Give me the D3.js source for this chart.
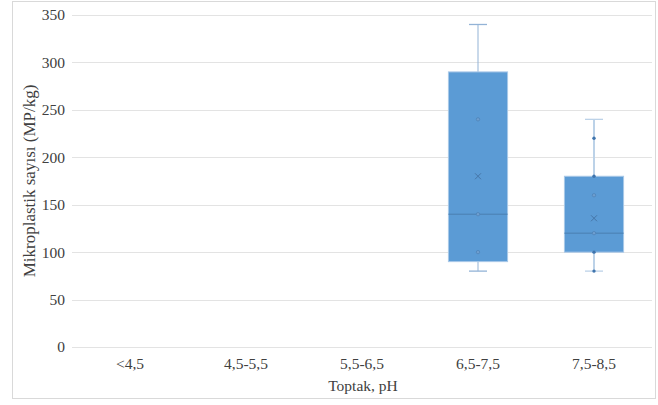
<!DOCTYPE html>
<html>
<head>
<meta charset="utf-8">
<script src="https://cdn.jsdelivr.net/npm/d3@7"></script>
<style>
body { margin: 0; background: #fff; }
svg text { font-family: "Liberation Serif", "Times New Roman", serif !important; }
</style>
</head>
<body>
<svg id="chart" width="658" height="405"></svg>
<script>
// pH classes and the sample values
var categories = ["<4,5", "4,5-5,5", "5,5-6,5", "6,5-7,5", "7,5-8,5"];
var valuesPh65 = [80, 100, 140, 240, 340];
var valuesPh75 = [80, 80, 100, 100, 100, 100, 120, 120, 120, 160, 180, 180, 220, 240];
var seriesValues = [[], [], [], valuesPh65, valuesPh75];
var yTicks = [0, 50, 100, 150, 200, 250, 300, 350];

var svg = d3.select("#chart");
var margin = {left: 72, right: 6, top: 15, bottom: 58};
var width = 658 - margin.left - margin.right;
var height = 405 - margin.top - margin.bottom;
var serif = "'Liberation Serif', 'Times New Roman', serif";

// outer chart border
svg.append("rect")
    .attr("x", 12.5).attr("y", 1.5)
    .attr("width", 643).attr("height", 397)
    .style("fill", "none").style("stroke", "#d9d9d9");

var g = svg.append("g").attr("transform", "translate(" + margin.left + "," + margin.top + ")");

var x = d3.scaleBand().domain(categories).range([0, width]);
var y = d3.scaleLinear().domain([0, 350]).range([height, 0]);

// exclusive quartiles, the way Excel draws its box plots
function quantileExc(sorted, p)
{
    var n = sorted.length;
    var pos = p * (n + 1);
    if (pos <= 1) return sorted[0];
    if (pos >= n) return sorted[n - 1];
    var lo = Math.floor(pos);
    return sorted[lo - 1] + (pos - lo) * (sorted[lo] - sorted[lo - 1]);
}

// grid
g.selectAll(".grid").data(yTicks).enter().append("line")
    .attr("x1", 0).attr("x2", width)
    .attr("y1", function(d){ return Math.round(y(d)) + 0.5; })
    .attr("y2", function(d){ return Math.round(y(d)) + 0.5; })
    .style("stroke", "#e3e3e3").style("stroke-width", 1);

var yAxis = g.append("g").call(d3.axisLeft(y).tickValues(yTicks).tickSize(0).tickPadding(7));
yAxis.attr("font-family", serif);
yAxis.select(".domain").remove();
yAxis.selectAll("text").style("font-family", serif).style("font-size", "15.5px").style("fill", "#404040");

var xAxis = g.append("g").attr("transform", "translate(0," + height + ")")
    .call(d3.axisBottom(x).tickSize(0).tickPadding(11));
xAxis.attr("font-family", serif);
xAxis.select(".domain").remove();
xAxis.selectAll("text").style("font-family", serif).style("font-size", "15.5px").style("fill", "#404040");

svg.append("text")
    .attr("x", margin.left + width / 2 + 1).attr("y", 391)
    .attr("text-anchor", "middle")
    .style("font-family", serif).style("font-size", "15.5px").style("fill", "#404040")
    .text("Toptak, pH");

svg.append("text")
    .attr("transform", "translate(35," + (margin.top + height / 2) + ") rotate(-90)")
    .attr("text-anchor", "middle")
    .style("font-family", serif).style("font-size", "17px").style("fill", "#404040")
    .text("Mikroplastik sayısı (MP/kg)");

var boxW = x.bandwidth() * 0.51;
var capW = 16;

categories.forEach(function(cat, i)
{
    var vals = seriesValues[i].slice().sort(d3.ascending);
    if (!vals.length) return;
    var cx = x(cat) + x.bandwidth() / 2;
    var q1 = quantileExc(vals, 0.25);
    var med = quantileExc(vals, 0.5);
    var q3 = quantileExc(vals, 0.75);
    var iqr = q3 - q1;
    var lo = d3.min(vals.filter(function(v){ return v >= q1 - 1.5 * iqr; }));
    var hi = d3.max(vals.filter(function(v){ return v <= q3 + 1.5 * iqr; }));
    var mean = d3.mean(vals);
    var whiskCol = i == 3 ? "#93b3d6" : "#bcd2e8";
    var whiskW = i == 3 ? 1 : 2;

    var box = g.append("g");
    box.append("line")
        .attr("x1", cx).attr("x2", cx).attr("y1", y(hi)).attr("y2", y(q3))
        .style("stroke", whiskCol).style("stroke-width", whiskW);
    box.append("line")
        .attr("x1", cx).attr("x2", cx).attr("y1", y(q1)).attr("y2", y(lo))
        .style("stroke", whiskCol).style("stroke-width", whiskW);
    box.append("line")
        .attr("x1", cx - capW / 2 - 1).attr("x2", cx + capW / 2 + 1).attr("y1", y(hi)).attr("y2", y(hi))
        .style("stroke", whiskCol).style("stroke-width", 1.3);
    box.append("line")
        .attr("x1", cx - capW / 2 - 1).attr("x2", cx + capW / 2 + 1).attr("y1", y(lo)).attr("y2", y(lo))
        .style("stroke", whiskCol).style("stroke-width", 1.3);

    box.append("rect")
        .attr("x", cx - boxW / 2).attr("y", y(q3))
        .attr("width", boxW).attr("height", y(q1) - y(q3))
        .style("fill", "#5b9bd5").style("stroke", "#a8c8e8").style("stroke-width", 1);

    box.append("line")
        .attr("x1", cx - boxW / 2).attr("x2", cx + boxW / 2).attr("y1", y(med)).attr("y2", y(med))
        .style("stroke", "#4a7eb0").style("stroke-width", 1);

    // inner points; a single value sitting on a whisker end hides under the cap
    var counts = d3.rollup(vals, function(v){ return v.length; }, function(d){ return d; });
    var pts = Array.from(counts.keys()).filter(function(d){
        return !((d == lo || d == hi) && counts.get(d) < 2);
    });
    box.selectAll(".pt").data(pts).enter().append("circle")
        .attr("cx", cx).attr("cy", function(d){ return y(d); })
        .attr("r", 1.7)
        .style("fill", function(d){ return (d > q1 && d < q3) ? "#6e9fd0" : "#3f74ad"; })
        .style("stroke", function(d){ return (d > q1 && d < q3) ? "#4a7cb0" : "none"; })
        .style("stroke-width", 0.6);

    // mean marker
    var m = 3;
    var my = y(mean);
    box.append("path")
        .attr("d", "M" + (cx - m) + "," + (my - m) + "L" + (cx + m) + "," + (my + m) +
                   "M" + (cx - m) + "," + (my + m) + "L" + (cx + m) + "," + (my - m))
        .style("stroke", "#4676a8").style("stroke-width", 1).style("fill", "none");
});
</script>
</body>
</html>
